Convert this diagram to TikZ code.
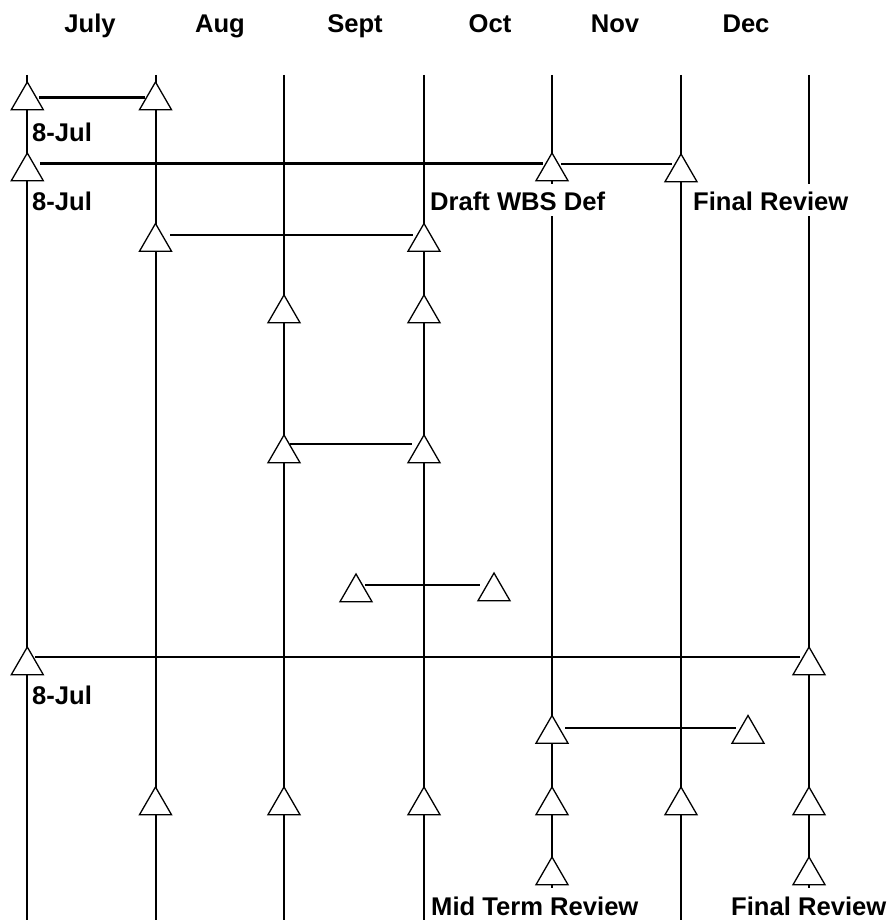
\documentclass[tikz,border=0pt]{standalone}
\usepackage{fontspec}
\setmainfont{Liberation Sans}
\usetikzlibrary{shapes.geometric}
\pgfdeclarelayer{lines}
\pgfsetlayers{lines,main}
\begin{document}
\begin{tikzpicture}[x=1pt,y=-1pt,
  tri/.style={regular polygon, regular polygon sides=3, minimum size=37pt, inner sep=0pt, outer sep=0pt, draw, fill=white, line width=1.3pt},
  vline/.style={line width=2pt},
  hline/.style={line width=2.8pt},
  lbl/.style={anchor=base west, fill=white, inner sep=1pt, text height=26pt, text depth=4pt, font=\fontsize{25.6}{30}\selectfont\bfseries},
  month/.style={anchor=base, inner sep=0pt, font=\fontsize{25.6}{30}\selectfont\bfseries}]
\useasboundingbox (0,0) rectangle (895,920);

% month headers
\node[month] (mJul) at (90,33) {July};
\node[month] (mAug) at (220,33) {Aug};
\node[month] (mSep) at (355,33) {Sept};
\node[month] (mOct) at (490,33) {Oct};
\node[month] (mNov) at (615,33) {Nov};
\node[month] (mDec) at (746,33) {Dec};

% vertical line end points
\foreach \n/\x in {a/27.3,b/155.5,c/284,d/424,e/552,f/681,g/809}{
  \coordinate (top\n) at (\x,75);
  \coordinate (bot\n) at (\x,920);
}

% triangles
\node[tri] (r1a) at (27.3,100.5) {};
\node[tri] (r1b) at (155.5,100.5) {};
\node[tri] (r2a) at (27.3,171.5) {};
\node[tri] (r2e) at (552,171.5) {};
\node[tri] (r2f) at (681,172.5) {};
\node[tri] (r3b) at (155.5,242) {};
\node[tri] (r3d) at (424,242) {};
\node[tri] (r4c) at (284,313.5) {};
\node[tri] (r4d) at (424,313.5) {};
\node[tri] (r5c) at (284,453.5) {};
\node[tri] (r5d) at (424,453.5) {};
\node[tri] (r6l) at (356,592.5) {};
\node[tri] (r6r) at (494,591.5) {};
\node[tri] (r7a) at (27.3,665.5) {};
\node[tri] (r7g) at (809,665.5) {};
\node[tri] (r8e) at (552,734) {};
\node[tri] (r8x) at (748,734) {};
\foreach \n/\x in {b/155.5,c/284,d/424,e/552,f/681,g/809}{
  \node[tri] (r9\n) at (\x,805.5) {};
}
\node[tri] (r10e) at (552,875.5) {};
\node[tri] (r10g) at (809,875.5) {};

% labels
\node[lbl] (l1) at (31,142) {8-Jul};
\node[lbl] (l2) at (31,211) {8-Jul};
\node[lbl] (l3) at (429,211) {Draft WBS Def};
\node[lbl] (l4) at (692,211) {Final Review};
\node[lbl] (l5) at (31,704) {8-Jul};
\node[lbl] (l6) at (430,915) {Mid Term Review};
\node[lbl] (l7) at (730,915) {Final Review};

\begin{pgfonlayer}{lines}
  \foreach \n in {a,b,c,d,e,f,g}{
    \draw[vline] (top\n) -- (bot\n);
  }
  \draw[hline, shorten <=11.5pt, shorten >=10.5pt] ([yshift=2.8pt]r1a.center) -- ([yshift=2.8pt]r1b.center);
  \draw[hline, shorten <=12.5pt, shorten >=9pt] ([yshift=8pt]r2a.center) -- ([yshift=8pt]r2e.center);
  \draw[hline, shorten <=9pt, shorten >=9pt] ([yshift=7.5pt]r2e.center) -- ([yshift=8.5pt]r2f.center);
  \draw[hline, shorten <=14.5pt, shorten >=11pt] ([yshift=7pt]r3b.center) -- ([yshift=7pt]r3d.center);
  \draw[hline, shorten <=6pt, shorten >=12pt] ([yshift=9.5pt]r5c.center) -- ([yshift=9.5pt]r5d.center);
  \draw[hline, shorten <=9pt, shorten >=14pt] ([yshift=7.5pt]r6l.center) -- ([yshift=6.5pt]r6r.center);
  \draw[hline, shorten <=8pt, shorten >=9pt] ([yshift=8.5pt]r7a.center) -- ([yshift=8.5pt]r7g.center);
  \draw[hline, shorten <=13pt, shorten >=12pt] ([yshift=6pt]r8e.center) -- ([yshift=6pt]r8x.center);
\end{pgfonlayer}
\end{tikzpicture}
\end{document}
